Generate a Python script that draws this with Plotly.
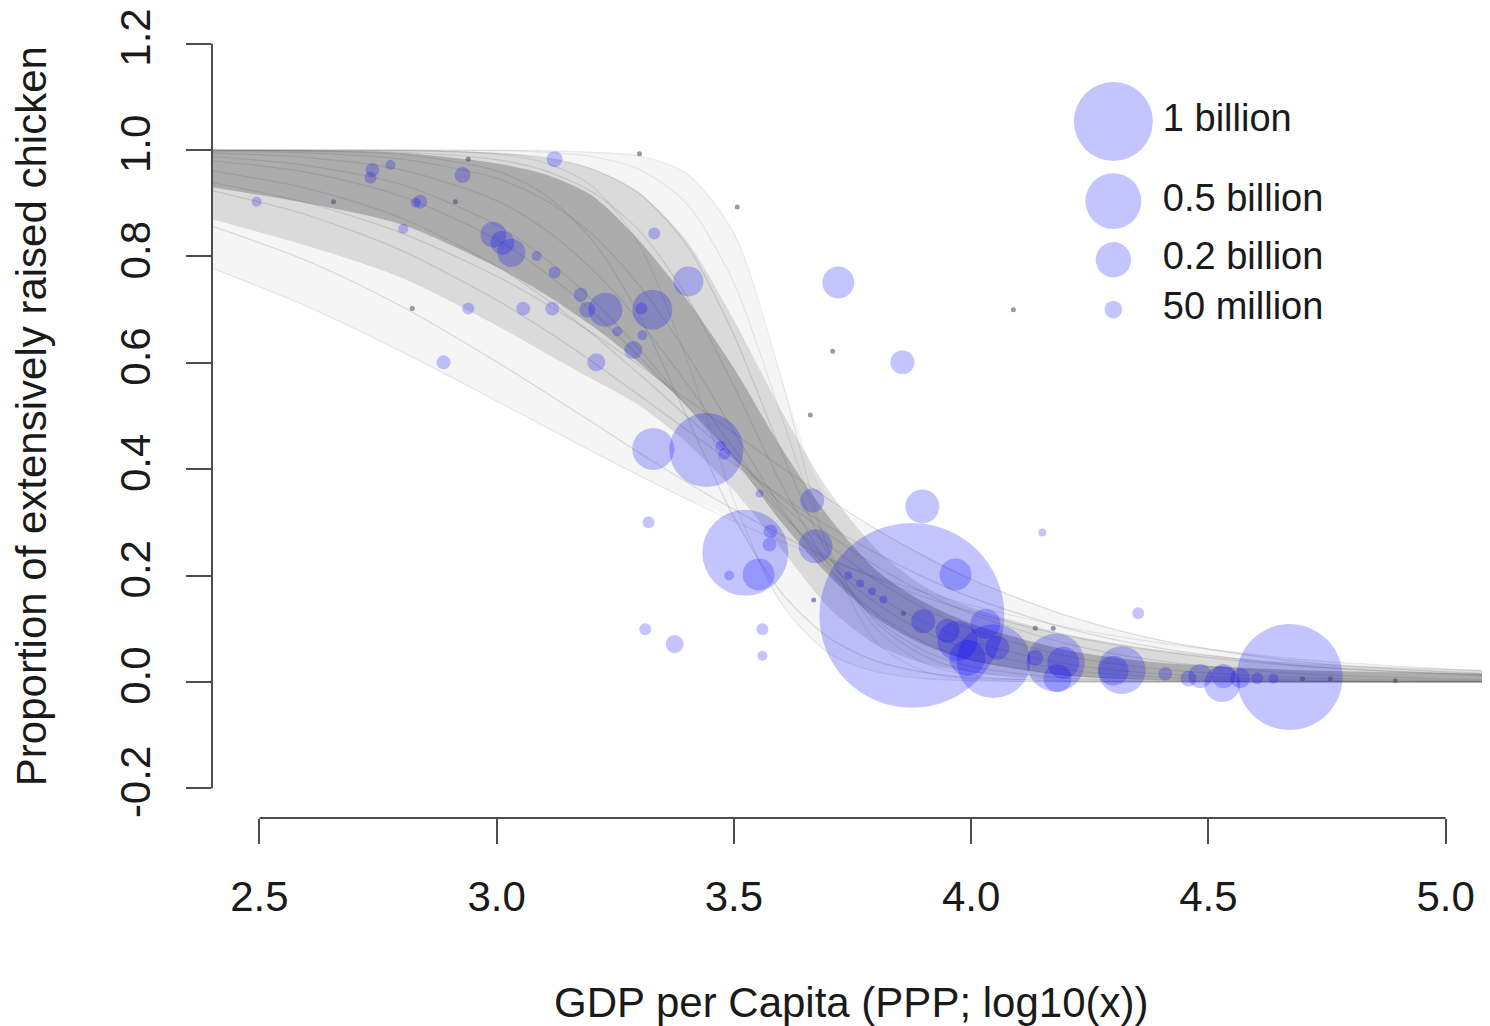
import plotly.graph_objects as go

# ---------------- data ----------------
# posterior draws of the fitted logistic curves, read at these x positions
GRID = [2.4, 2.6, 2.8, 3.0, 3.1, 3.2, 3.3, 3.4, 3.5, 3.6, 3.7, 3.8, 3.9, 4.0, 4.2, 4.4, 4.7, 5.1]
CURVES = {
    "L1": [0.778, 0.706, 0.621, 0.528, 0.481, 0.434, 0.388, 0.344, 0.302, 0.264, 0.229, 0.197, 0.169, 0.144, 0.103, 0.073, 0.042, 0.020],
    "L2": [0.857, 0.792, 0.706, 0.602, 0.546, 0.489, 0.431, 0.376, 0.324, 0.276, 0.232, 0.194, 0.160, 0.132, 0.087, 0.057, 0.029, 0.012],
    "C1": [0.924, 0.878, 0.811, 0.718, 0.663, 0.603, 0.539, 0.474, 0.410, 0.349, 0.292, 0.242, 0.197, 0.159, 0.101, 0.063, 0.030, 0.011],
    "S2": [0.939, 0.901, 0.844, 0.763, 0.713, 0.657, 0.596, 0.532, 0.468, 0.404, 0.343, 0.287, 0.237, 0.193, 0.125, 0.078, 0.037, 0.014],
    "C2": [0.961, 0.928, 0.872, 0.782, 0.723, 0.655, 0.579, 0.500, 0.421, 0.345, 0.277, 0.218, 0.168, 0.128, 0.072, 0.039, 0.015, 0.004],
    "C3": [0.980, 0.958, 0.913, 0.832, 0.771, 0.698, 0.612, 0.519, 0.425, 0.335, 0.257, 0.191, 0.139, 0.099, 0.049, 0.024, 0.008, 0.002],
    "C4": [0.988, 0.971, 0.935, 0.859, 0.798, 0.720, 0.626, 0.521, 0.415, 0.316, 0.231, 0.163, 0.113, 0.076, 0.034, 0.015, 0.004, 0.001],
    "C5": [0.995, 0.986, 0.963, 0.905, 0.852, 0.777, 0.679, 0.562, 0.438, 0.321, 0.223, 0.148, 0.095, 0.060, 0.023, 0.009, 0.002, 0.000],
    "C6": [0.998, 0.995, 0.983, 0.947, 0.907, 0.843, 0.746, 0.618, 0.470, 0.327, 0.211, 0.128, 0.075, 0.042, 0.013, 0.004, 0.001, 0.000],
    "E1": [1.000, 0.998, 0.992, 0.961, 0.917, 0.832, 0.690, 0.500, 0.310, 0.168, 0.083, 0.039, 0.018, 0.008, 0.002, 0.000, 0.000, 0.000],
    "E2": [1.000, 1.000, 1.000, 0.992, 0.977, 0.933, 0.823, 0.608, 0.341, 0.147, 0.054, 0.019, 0.006, 0.002, 0.000, 0.000, 0.000, 0.000],
    "U1": [1.000, 0.999, 0.996, 0.982, 0.962, 0.922, 0.849, 0.726, 0.556, 0.372, 0.218, 0.117, 0.059, 0.029, 0.007, 0.002, 0.000, 0.000],
    "U2": [1.000, 1.000, 0.999, 0.994, 0.986, 0.965, 0.919, 0.822, 0.652, 0.433, 0.237, 0.112, 0.049, 0.020, 0.003, 0.001, 0.000, 0.000],
    "U3": [1.000, 1.000, 1.000, 0.999, 0.996, 0.988, 0.964, 0.900, 0.750, 0.500, 0.250, 0.100, 0.036, 0.012, 0.001, 0.000, 0.000, 0.000],
    "U4": [1.000, 1.000, 1.000, 1.000, 0.999, 0.996, 0.989, 0.956, 0.843, 0.570, 0.246, 0.075, 0.020, 0.005, 0.000, 0.000, 0.000, 0.000],
}
FAINT = ["L1", "E2", "U3", "U4"]

# density of the draws: dense middle band and darkest core band (lower / upper edge)
MID_LO = [0.870, 0.820, 0.760, 0.670, 0.620, 0.570, 0.520, 0.450, 0.360, 0.250, 0.140, 0.070, 0.035, 0.018, 0.004, 0.000, 0.000, 0.000]
MID_HI = [1.000, 1.000, 1.000, 0.995, 0.985, 0.965, 0.920, 0.830, 0.680, 0.510, 0.360, 0.250, 0.180, 0.140, 0.090, 0.060, 0.035, 0.022]
CORE_LO = [0.930, 0.900, 0.860, 0.780, 0.730, 0.670, 0.600, 0.520, 0.420, 0.300, 0.200, 0.120, 0.070, 0.040, 0.012, 0.003, 0.000, 0.000]
CORE_HI = [1.000, 1.000, 0.995, 0.975, 0.955, 0.915, 0.830, 0.720, 0.590, 0.440, 0.310, 0.210, 0.150, 0.110, 0.060, 0.036, 0.022, 0.016]

# countries: log10 GDP per capita, proportion extensive, flock size (billions)
gdp = [2.494, 2.738, 2.734, 2.776, 2.839, 2.829, 2.803, 2.928, 2.993, 3.012,
       3.031, 3.084, 3.122, 3.122, 3.332, 3.404, 3.328, 3.229, 3.177, 3.191,
       3.117, 3.056, 2.940, 3.254, 3.307, 3.288, 3.210, 2.888, 3.720, 3.855,
       3.330, 3.442, 3.480, 3.472, 3.320, 3.524, 3.552, 3.577, 3.575, 3.490,
       3.554, 3.665, 3.672, 3.897, 3.967, 3.875, 3.313, 3.375, 3.560, 3.560,
       4.047, 3.899, 3.950, 3.971, 4.030, 3.992, 4.055, 4.135, 4.178, 4.194,
       4.317, 4.300, 4.352, 4.150, 4.409, 4.483, 4.532, 4.529, 4.567, 4.603,
       4.637, 4.671, 4.458, 4.182, 3.305, 3.741, 3.766, 3.791, 3.815]
prop = [0.903, 0.963, 0.948, 0.972, 0.903, 0.901, 0.852, 0.953, 0.841, 0.826,
        0.807, 0.801, 0.770, 0.983, 0.843, 0.753, 0.700, 0.700, 0.728, 0.700,
        0.702, 0.702, 0.702, 0.659, 0.652, 0.624, 0.601, 0.601, 0.751, 0.601,
        0.438, 0.436, 0.429, 0.444, 0.300, 0.243, 0.202, 0.283, 0.258, 0.200,
        0.354, 0.341, 0.255, 0.330, 0.202, 0.125, 0.099, 0.071, 0.099, 0.049,
        0.039, 0.114, 0.096, 0.077, 0.109, 0.045, 0.064, 0.045, 0.036, 0.036,
        0.022, 0.021, 0.129, 0.281, 0.015, 0.011, 0.011, -0.004, 0.007, 0.007,
        0.006, 0.009, 0.006, 0.007, 0.702, 0.200, 0.185, 0.170, 0.155]
flock = [0.016, 0.031, 0.023, 0.016, 0.031, 0.016, 0.016, 0.041, 0.108, 0.092,
         0.126, 0.016, 0.023, 0.041, 0.023, 0.144, 0.256, 0.185, 0.031, 0.041,
         0.031, 0.031, 0.023, 0.016, 0.016, 0.052, 0.052, 0.031, 0.164, 0.092,
         0.283, 0.877, 0.023, 0.016, 0.023, 1.185, 0.164, 0.031, 0.031, 0.016,
         0.010, 0.092, 0.185, 0.185, 0.164, 5.48, 0.023, 0.052, 0.023, 0.016,
         0.877, 0.092, 0.092, 0.256, 0.144, 0.208, 0.092, 0.041, 0.539, 0.164,
         0.369, 0.144, 0.023, 0.010, 0.031, 0.092, 0.092, 0.208, 0.064, 0.023,
         0.016, 1.80, 0.041, 0.126, 0.023, 0.010, 0.010, 0.010, 0.010]

# very small flocks drawn as dots
tiny_gdp = [2.656, 2.940, 2.913, 2.822, 3.301, 3.507, 3.708, 4.089, 3.661, 3.668,
            4.135, 4.173, 4.698, 4.757, 4.894, 3.857]
tiny_prop = [0.903, 0.983, 0.903, 0.702, 0.993, 0.893, 0.622, 0.700, 0.502, 0.154,
             0.101, 0.101, 0.006, 0.006, 0.002, 0.129]

legend_sizes = [1.0, 0.5, 0.2, 0.05]
legend_labels = ["1 billion", "0.5 billion", "0.2 billion", "50 million"]

x_ticks = [2.5, 3.0, 3.5, 4.0, 4.5, 5.0]
x_ticktext = ["2.5", "3.0", "3.5", "4.0", "4.5", "5.0"]
y_ticks = [-0.2, 0.0, 0.2, 0.4, 0.6, 0.8, 1.0, 1.2]
y_ticktext = ["-0.2", "0.0", "0.2", "0.4", "0.6", "0.8", "1.0", "1.2"]

# ---------------- figure ----------------
FONT = "Liberation Sans, Arial, Helvetica, sans-serif"
BUBBLE = "rgba(0,0,255,0.33)"
SIZEREF = 1.0 / 3120.0
AXCOL = "#4d4d4d"
TXT = "#1a1a1a"

fig = go.Figure()


def band(lo, hi, color):
    fig.add_trace(go.Scatter(x=GRID, y=lo, mode="lines",
                             line=dict(width=0, shape="spline", smoothing=0.8),
                             hoverinfo="skip", showlegend=False))
    fig.add_trace(go.Scatter(x=GRID, y=hi, mode="lines", fill="tonexty",
                             fillcolor=color,
                             line=dict(width=0, shape="spline", smoothing=0.8),
                             hoverinfo="skip", showlegend=False))


n_pts = len(GRID)
outer_lo = [min(c[i] for c in CURVES.values()) for i in range(n_pts)]
outer_hi = [max(c[i] for c in CURVES.values()) for i in range(n_pts)]
band(outer_lo, outer_hi, "rgba(110,110,110,0.07)")
band(MID_LO, MID_HI, "rgba(110,110,110,0.20)")
band(CORE_LO, CORE_HI, "rgba(110,110,110,0.42)")

for name, ys in CURVES.items():
    a = 0.13 if name in FAINT else 0.20
    fig.add_trace(go.Scatter(x=GRID, y=ys, mode="lines",
                             line=dict(width=1.2, color=f"rgba(100,100,100,{a})",
                                       shape="spline", smoothing=0.8),
                             hoverinfo="skip", showlegend=False))

fig.add_trace(go.Scatter(x=gdp, y=prop, mode="markers",
                         marker=dict(size=flock, sizemode="area", sizeref=SIZEREF,
                                     sizemin=2, color=BUBBLE, line=dict(width=0)),
                         showlegend=False))
fig.add_trace(go.Scatter(x=tiny_gdp, y=tiny_prop, mode="markers",
                         marker=dict(size=5, color="rgba(70,70,110,0.55)", line=dict(width=0)),
                         showlegend=False))

# size legend drawn on an overlay axis spanning the plot area
leg_x = 0.7053
leg_y = [0.8663, 0.7673, 0.6943, 0.6324]
fig.add_trace(go.Scatter(x=[leg_x] * len(legend_sizes), y=leg_y, mode="markers",
                         xaxis="x2", yaxis="y2",
                         marker=dict(size=legend_sizes, sizemode="area", sizeref=SIZEREF,
                                     color=BUBBLE, line=dict(width=0)),
                         showlegend=False, hoverinfo="skip"))
fig.add_trace(go.Scatter(x=[0.7440] * len(legend_labels), y=leg_y, mode="text",
                         xaxis="x2", yaxis="y2", text=legend_labels,
                         textposition="middle right",
                         textfont=dict(family=FONT, size=38, color=TXT),
                         showlegend=False, hoverinfo="skip"))

# R style detached axis lines spanning the tick range only
fig.add_shape(type="line", xref="x", yref="paper", x0=x_ticks[0], x1=x_ticks[-1],
              y0=0, y1=0, line=dict(color=AXCOL, width=2))
fig.add_shape(type="line", xref="paper", yref="y", x0=0, x1=0,
              y0=y_ticks[0], y1=y_ticks[-1], line=dict(color=AXCOL, width=2))

fig.add_annotation(text="GDP per Capita (PPP; log10(x))", xref="paper", yref="paper",
                   x=0.5, y=-0.229, xanchor="center", yanchor="middle", showarrow=False,
                   font=dict(family=FONT, size=42, color=TXT))
fig.add_annotation(text="Proportion of extensively raised chicken", xref="paper", yref="paper",
                   x=-0.1415, y=0.5, xanchor="center", yanchor="middle", showarrow=False,
                   textangle=-90, font=dict(family=FONT, size=42, color=TXT))

# the page adds an 8px body margin, so the figure is sized to sit inside the window
fig.update_layout(
    width=1482, height=1018,
    margin=dict(l=204, r=0, t=2, b=208),
    plot_bgcolor="white", paper_bgcolor="white",
    showlegend=False,
    font=dict(family=FONT, size=42, color=TXT),
    xaxis=dict(range=[2.4, 5.0934], tickvals=x_ticks, ticktext=x_ticktext,
               ticks="outside", ticklen=25, tickwidth=2, tickcolor=AXCOL,
               showgrid=False, zeroline=False, showline=False,
               ticklabeloverflow="allow",
               ticklabelstandoff=17, tickfont=dict(family=FONT, size=42, color=TXT)),
    yaxis=dict(range=[-0.256, 1.256], tickvals=y_ticks, ticktext=y_ticktext,
               ticks="outside", ticklen=25, tickwidth=2, tickcolor=AXCOL,
               tickangle=-90,
               showgrid=False, zeroline=False, showline=False,
               ticklabeloverflow="allow",
               ticklabelstandoff=19, tickfont=dict(family=FONT, size=42, color=TXT)),
    xaxis2=dict(overlaying="x", anchor="y2", range=[0, 1], visible=False),
    yaxis2=dict(overlaying="y", anchor="x2", range=[0, 1], visible=False),
)

fig.write_html("out.html")
